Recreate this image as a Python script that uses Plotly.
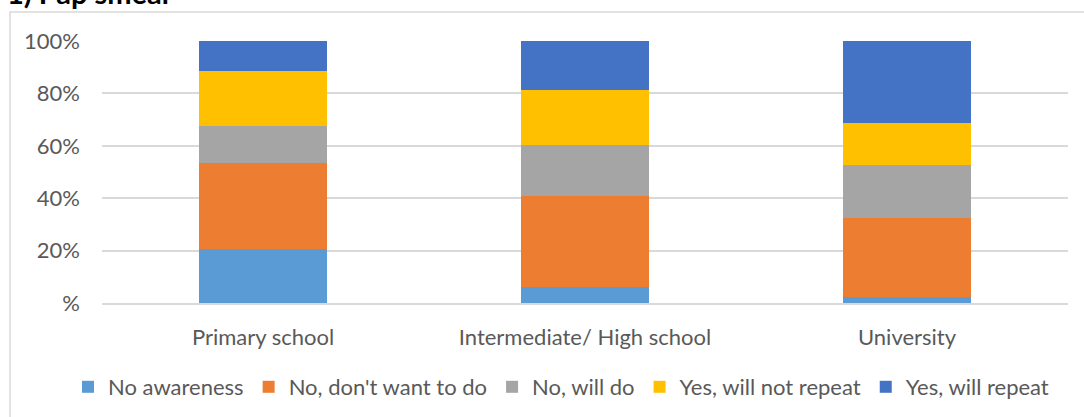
import plotly.graph_objects as go

# Survey results by education level (share of respondents, %)
categories = ["Primary school", "Intermediate/ High school", "University"]
series_names = ["No awareness", "No, don't want to do", "No, will do",
                "Yes, will not repeat", "Yes, will repeat"]
no_awareness = [20.5, 6.0, 2.4]
no_dont_want = [33.0, 34.7, 30.2]
no_will_do = [14.2, 19.5, 20.0]
yes_not_repeat = [20.7, 21.1, 16.1]
yes_repeat = [11.6, 18.7, 31.3]

tick_vals = [0, 20, 40, 60, 80, 100]
tick_text = ["%", "20%", "40%", "60%", "80%", "100%"]

colors = ["#5B9BD5", "#ED7D31", "#A5A5A5", "#FFC000", "#4472C4"]
values = [no_awareness, no_dont_want, no_will_do, yes_not_repeat, yes_repeat]

FONT = "Lato"
TEXT_COLOR = "#595959"
GRID = "#D9D9D9"
FS = 22

fig = go.Figure()
for name, vals, col in zip(series_names, values, colors):
    fig.add_trace(go.Bar(
        x=categories, y=vals, name=name,
        marker=dict(color=col, line=dict(width=0)),
        width=0.4,
    ))

W, H = 1084, 417
ml, mr, mt, mb = 102, 16, 41, 114
pw, ph = W - ml - mr, H - mt - mb

def px_x(px):
    return (px - ml) / pw

def px_y(py):
    return (H - mb - py) / ph

fig.update_layout(
    width=W, height=H,
    margin=dict(l=ml, r=mr, t=mt, b=mb, autoexpand=False),
    barmode="stack",
    plot_bgcolor="white", paper_bgcolor="white",
    font=dict(family=FONT, size=FS, color=TEXT_COLOR),
    xaxis=dict(showgrid=False, showline=True, linecolor=GRID, linewidth=1.5,
               ticks="", ticklabelstandoff=14,
               tickfont=dict(size=FS, color=TEXT_COLOR)),
    yaxis=dict(range=[0, 100], tickvals=tick_vals, ticktext=tick_text,
               showgrid=True, gridcolor=GRID, gridwidth=1.5, zeroline=False,
               showline=False, ticks="", ticklabelstandoff=21,
               tickfont=dict(size=FS, color=TEXT_COLOR)),
    # legend sits below the plot, anchored left inside the left margin so it
    # may span the full width on one row
    legend=dict(orientation="h", xref="paper", yref="paper",
                x=px_x(68), xanchor="left",
                y=px_y(387), yanchor="middle",
                font=dict(size=FS, color=TEXT_COLOR),
                traceorder="normal", itemwidth=30, itemsizing="constant"),
    showlegend=True,
)

# Chart area frame (left and top edges)
fig.add_shape(type="path", xref="paper", yref="paper",
              path=f"M {px_x(10)} {px_y(417)} L {px_x(10)} {px_y(12)} L {px_x(1084)} {px_y(12)}",
              line=dict(color=GRID, width=1.5))

# Chart title
fig.add_annotation(text="<b>1) Pap smear</b>", xref="paper", yref="paper",
                   x=px_x(5), y=px_y(12), xanchor="left", yanchor="bottom",
                   showarrow=False, font=dict(family=FONT, size=29, color="#000000"))

fig.write_html("out.html")
